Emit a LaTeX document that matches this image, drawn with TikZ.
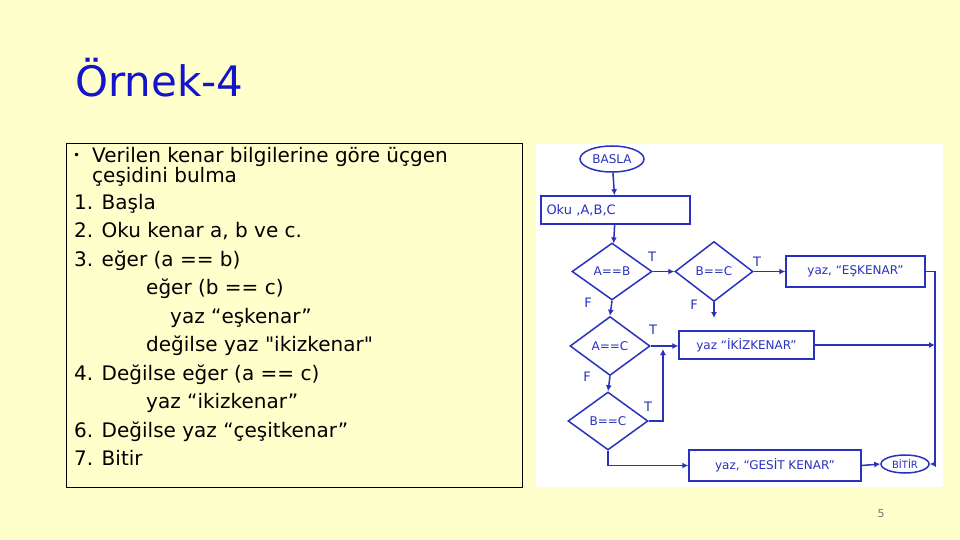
\documentclass[tikz,border=0pt]{standalone}
\usepackage{fontspec}
\setmainfont{DejaVu Sans}[Ligatures=TeXOff]
\usetikzlibrary{shapes.geometric,arrows.meta,calc}
\definecolor{slidebg}{RGB}{255,255,204}
\definecolor{titleblue}{RGB}{20,20,200}
\definecolor{penblue}{RGB}{40,50,190}
\definecolor{pagegray}{RGB}{120,120,110}
\tikzset{
  body/.style={anchor=base west, inner sep=0pt, font=\fontsize{20}{22}\selectfont},
  fc/.style={draw=penblue, line width=1.5pt, text=penblue, font=\fontsize{12}{13}\selectfont, inner sep=0pt},
  term/.style={fc, ellipse},
  proc/.style={fc, rectangle},
  dec/.style={fc, diamond},
  tf/.style={text=penblue, font=\fontsize{13}{13}\selectfont, inner sep=0pt},
  arr/.style={draw=penblue, line width=1.5pt, -{Latex[length=6pt,width=6pt]}},
}
\begin{document}
\begin{tikzpicture}[x=1pt,y=-1pt]
\useasboundingbox (0,0) rectangle (960,540);
\fill[slidebg] (0,0) rectangle (960,540);

% title
\node[anchor=base west, inner sep=0pt, text=titleblue, font=\fontsize{42}{44}\selectfont] (title) at (75,97) {Örnek-4};

% text box
\draw[black, line width=0.8pt] (66,143) rectangle (522,487);
\node[body, font=\fontsize{12}{12}\selectfont] (bul) at (73,160) {•};
\node[inner sep=0pt, anchor=north west, align=left, font=\fontsize{20}{17}\selectfont] (l0) at (92,147) {Verilen kenar bilgilerine göre üçgen\\çeşidini bulma};
\node[body] (l1) at (74,209) {1. Başla};
\node[body] (l2) at (74,237.5) {2. Oku kenar a, b ve c.};
\node[body] (l3) at (74,266) {3. eğer (a == b)};
\node[body] (l4) at (146,294.5) {eğer (b == c)};
\node[body] (l5) at (170,323) {yaz “eşkenar”};
\node[body] (l6) at (146,351.5) {değilse yaz "ikizkenar"};
\node[body] (l7) at (74,380) {4. Değilse eğer (a == c)};
\node[body] (l8) at (146,408.5) {yaz “ikizkenar”};
\node[body] (l9) at (74,437) {6. Değilse yaz “çeşitkenar”};
\node[body] (l10) at (74,465.5) {7. Bitir};

% flowchart image area
\fill[white] (536,144) rectangle (943,487);

\node[term, minimum width=64pt, minimum height=26pt] (start) at (612,159) {BASLA};
\node[proc, minimum width=149pt, minimum height=28pt, text width=138pt, align=left, font=\fontsize{13}{14}\selectfont] (read) at (615.5,210) {Oku ,A,B,C};
\node[dec, minimum width=80pt, minimum height=57pt] (d1) at (612,271.5) {A==B};
\node[dec, minimum width=78pt, minimum height=60pt] (d2) at (714,271.5) {B==C};
\node[proc, minimum width=139pt, minimum height=31pt] (eq) at (855.5,271.5) {yaz, “EŞKENAR”};
\node[dec, minimum width=80pt, minimum height=59pt] (d3) at (610,346) {A==C};
\node[proc, minimum width=135pt, minimum height=28pt] (iso) at (746.5,345) {yaz “İKİZKENAR”};
\node[dec, minimum width=80pt, minimum height=58pt] (d4) at (608,421) {B==C};
\node[proc, minimum width=172pt, minimum height=31pt] (sc) at (775,465.5) {yaz, “GESİT KENAR”};
\node[term, minimum width=48pt, minimum height=18pt, font=\fontsize{10}{10}\selectfont] (end) at (905,464) {BİTİR};

\node[tf] (t1) at (652,257) {T};
\node[tf] (f1) at (588,303) {F};
\node[tf] (t2) at (757,262) {T};
\node[tf] (f2) at (694,305) {F};
\node[tf] (t3) at (653,330) {T};
\node[tf] (f3) at (587,377) {F};
\node[tf] (t4) at (648,407) {T};

\coordinate (dang) at (714,318);
\coordinate (j1) at (663,349);
\coordinate (rt) at (935,271.5);
\coordinate (j2) at (935,345);

\draw[arr] (start) -- (read);
\draw[arr] (read) -- (d1);
\draw[arr] (d1.east) -- (d2.west);
\draw[arr] (d2.east) -- (eq.west);
\draw[arr] (d1.south) -- (d3.north);
\draw[arr] (d2.south) -- (dang);
\draw[arr] (d3.east) -- (d3.east -| iso.west);
\draw[arr] (d3.south) -- (d4.north);
\draw[arr] (d4.east) -| (j1);
\draw[arr] (d4.south) |- (sc.west);
\draw[arr] (sc.east) -- (end.west);
\draw[arr] (eq.east) -- (rt) |- (end.east);
\draw[arr] (iso.east) -- (j2);

\node[text=pagegray, font=\fontsize{11}{11}\selectfont, inner sep=0pt] (pg) at (881,514) {5};
\end{tikzpicture}
\end{document}
